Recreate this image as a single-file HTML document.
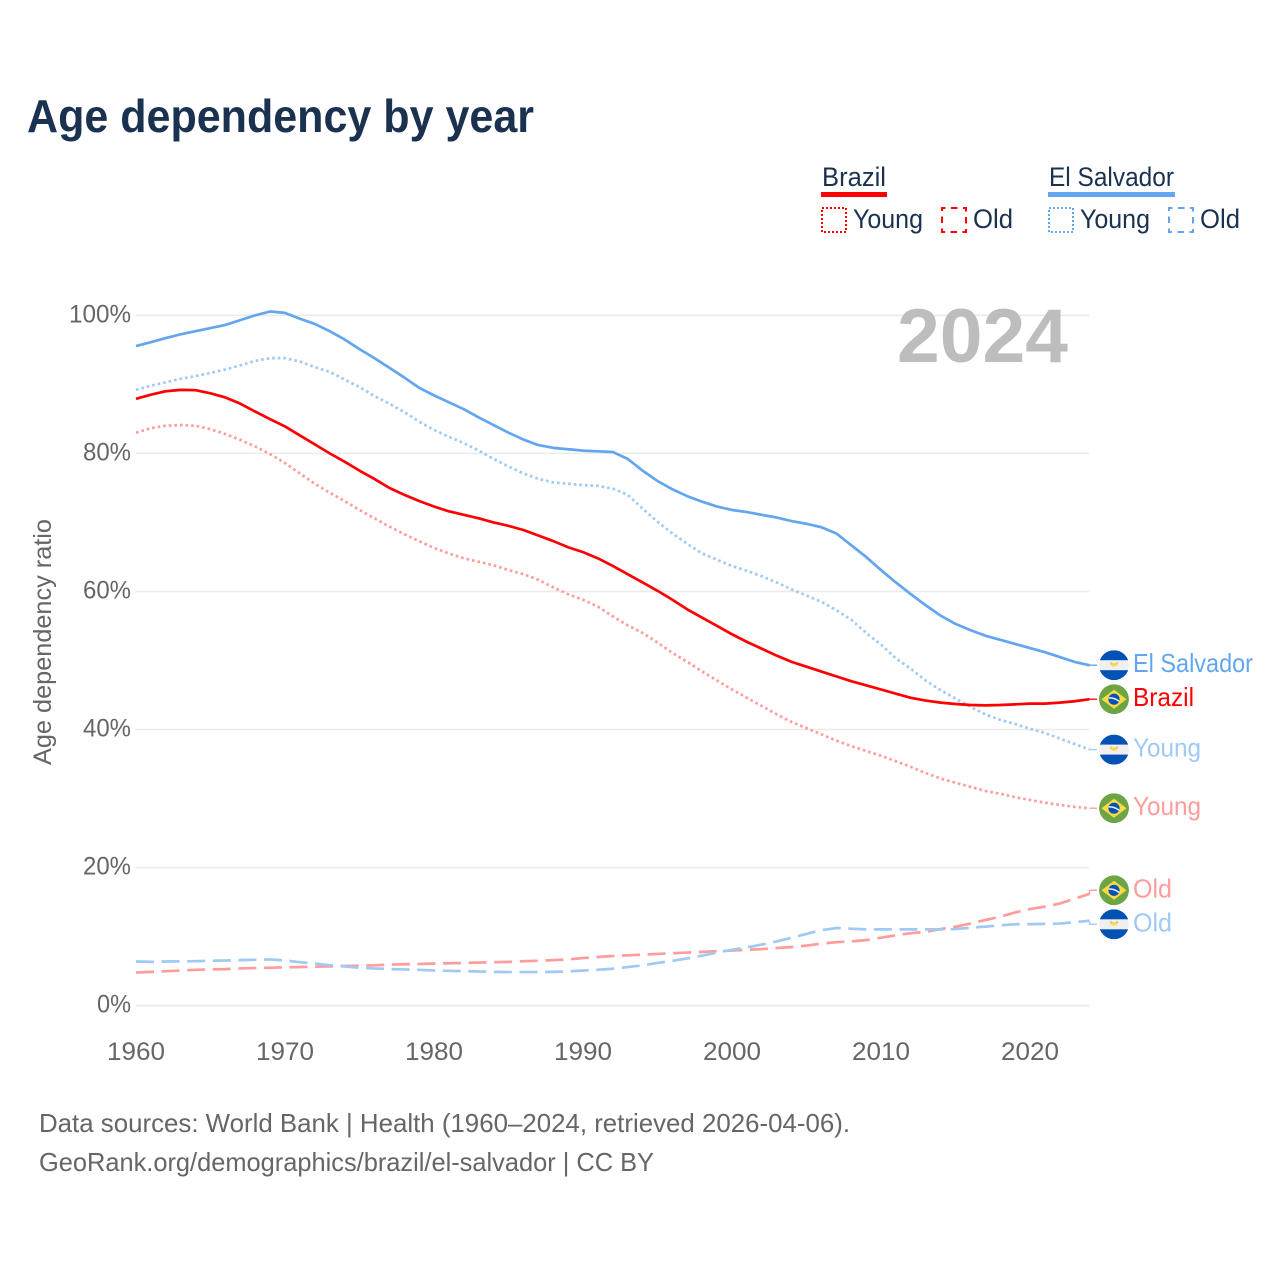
<!DOCTYPE html>
<html lang="en">
<head>
<meta charset="utf-8">
<title>Age dependency by year</title>
<style>
html,body{margin:0;padding:0;background:#fff;}
svg{display:block;font-family:"Liberation Sans",sans-serif;}
</style>
</head>
<body>
<svg id="chart" xmlns="http://www.w3.org/2000/svg" width="1280" height="1280" viewBox="0 0 1280 1280">
  <defs>
    <clipPath id="flag-clip"><circle cx="0" cy="0" r="15"/></clipPath>
    <g id="flag-brazil" clip-path="url(#flag-clip)">
      <circle r="15" fill="#6da544"/>
      <polygon points="0,-9.5 12.5,0 0,9.5 -12.5,0" fill="#ffda44"/>
      <circle r="5.6" fill="#0052b4"/>
      <path d="M-5.3,-1.2 Q0,-1.8 5.2,2.2" fill="none" stroke="#f0f0f0" stroke-width="1.5"/>
    </g>
    <g id="flag-el-salvador" clip-path="url(#flag-clip)">
      <circle r="15" fill="#f0f0f0"/>
      <rect x="-15" y="-15" width="30" height="10" fill="#0052b4"/>
      <rect x="-15" y="5" width="30" height="10" fill="#0052b4"/>
      <path d="M-4,-3 A4,4 0 0 0 4,-3 L2.6,-3 L2.6,-2 L-2.6,-2 L-2.6,-3 Z" fill="#d9b53a"/>
      <rect x="-2.8" y="-1.8" width="5.6" height="3" rx="1.4" fill="#ffda44"/>
    </g>
  </defs>

  <text x="27" y="132" font-size="46" font-weight="700" fill="#1a3150" textLength="507" lengthAdjust="spacingAndGlyphs">Age dependency by year</text>

  <g font-size="27" fill="#1a3150">
    <g>
      <text x="822" y="186" textLength="64" lengthAdjust="spacingAndGlyphs">Brazil</text>
      <rect x="821" y="192" width="66" height="5" fill="#ff0000"/>
      <rect x="822" y="208" width="24" height="24" fill="none" stroke="#ff0000" stroke-width="2" stroke-dasharray="2 2"/>
      <text x="853" y="228" textLength="70" lengthAdjust="spacingAndGlyphs">Young</text>
      <rect x="942" y="208" width="24" height="24" fill="none" stroke="#ff0000" stroke-width="2" stroke-dasharray="6.5 5.5" stroke-dashoffset="3"/>
      <text x="973" y="228" textLength="40" lengthAdjust="spacingAndGlyphs">Old</text>
    </g>
    <g>
      <text x="1049" y="186" textLength="125" lengthAdjust="spacingAndGlyphs">El Salvador</text>
      <rect x="1048" y="192" width="127" height="5" fill="#63a6ef"/>
      <rect x="1049" y="208" width="24" height="24" fill="none" stroke="#63a6ef" stroke-width="2" stroke-dasharray="2 2"/>
      <text x="1080" y="228" textLength="70" lengthAdjust="spacingAndGlyphs">Young</text>
      <rect x="1169" y="208" width="24" height="24" fill="none" stroke="#63a6ef" stroke-width="2" stroke-dasharray="6.5 5.5" stroke-dashoffset="3"/>
      <text x="1200" y="228" textLength="40" lengthAdjust="spacingAndGlyphs">Old</text>
    </g>
  </g>

  <g id="grid"></g>
  <g id="y-ticks"></g>
  <g id="x-ticks"></g>

  <text x="897" y="362" font-size="76" font-weight="700" fill="#bdbdbd" textLength="171" lengthAdjust="spacingAndGlyphs">2024</text>

  <text transform="translate(51 765) rotate(-90)" font-size="25" fill="#666666" textLength="246" lengthAdjust="spacingAndGlyphs">Age dependency ratio</text>

  <g id="series"></g>
  <g id="end-labels"></g>

  <g font-size="26" fill="#666666">
    <text x="39" y="1132" textLength="811" lengthAdjust="spacingAndGlyphs">Data sources: World Bank | Health (1960–2024, retrieved 2026-04-06).</text>
    <text x="39" y="1171" textLength="615" lengthAdjust="spacingAndGlyphs">GeoRank.org/demographics/brazil/el-salvador | CC BY</text>
  </g>
</svg>

<script>
const startYear = 1960;
const xTickYears = [1960, 1970, 1980, 1990, 2000, 2010, 2020];
const yTickValues = [0, 20, 40, 60, 80, 100];

const elSalvadorTotal = [
  95.55,96.1,96.7,97.25,97.7,98.15,98.6,99.3,100.0,100.55,
  100.35,99.5,98.75,97.7,96.5,95.1,93.8,92.4,91.0,89.5,
  88.4,87.4,86.4,85.2,84.1,83.0,82.0,81.2,80.8,80.6,
  80.4,80.3,80.2,79.2,77.5,76.0,74.8,73.8,73.0,72.3,
  71.8,71.5,71.1,70.7,70.2,69.8,69.3,68.4,66.7,65.0,
  63.1,61.3,59.6,58.0,56.5,55.3,54.4,53.6,53.0,52.4,
  51.8,51.2,50.5,49.8,49.3
];
const elSalvadorYoung = [
  89.2,89.8,90.3,90.8,91.2,91.65,92.15,92.75,93.4,93.8,
  93.8,93.3,92.5,91.8,90.7,89.6,88.3,87.2,86.0,84.6,
  83.4,82.4,81.5,80.4,79.2,78.1,77.1,76.3,75.8,75.6,
  75.4,75.3,74.9,74.0,72.0,70.1,68.4,66.9,65.5,64.6,
  63.7,63.0,62.2,61.3,60.3,59.4,58.5,57.3,55.9,54.0,
  52.3,50.3,48.8,47.1,45.7,44.5,43.3,42.2,41.4,40.8,
  40.1,39.5,38.7,37.9,37.1
];
const elSalvadorOld = [
  6.4,6.35,6.4,6.42,6.45,6.5,6.55,6.6,6.65,6.7,
  6.55,6.3,6.1,5.85,5.7,5.5,5.4,5.3,5.25,5.2,
  5.1,5.05,5.0,4.95,4.9,4.87,4.87,4.87,4.9,4.97,
  5.1,5.2,5.35,5.6,5.85,6.2,6.5,6.85,7.25,7.7,
  8.1,8.45,8.85,9.3,9.85,10.4,10.95,11.25,11.15,11.05,
  11.05,11.05,11.05,11.05,11.05,11.1,11.3,11.45,11.65,11.8,
  11.8,11.85,11.9,12.1,12.3
];
const brazilTotal = [
  87.9,88.5,89.0,89.2,89.15,88.7,88.1,87.2,86.05,84.95,
  83.9,82.6,81.3,80.0,78.8,77.5,76.3,75.0,74.0,73.1,
  72.3,71.6,71.1,70.6,70.0,69.5,68.9,68.1,67.3,66.4,
  65.7,64.8,63.7,62.5,61.3,60.1,58.8,57.4,56.2,55.0,
  53.8,52.7,51.7,50.7,49.8,49.1,48.4,47.7,47.0,46.4,
  45.8,45.2,44.6,44.2,43.9,43.7,43.55,43.5,43.55,43.65,
  43.75,43.75,43.9,44.1,44.4
];
const brazilYoung = [
  83.0,83.65,84.0,84.1,84.0,83.5,82.8,81.95,81.0,79.9,
  78.6,77.1,75.6,74.3,73.1,71.8,70.6,69.4,68.3,67.3,
  66.3,65.5,64.8,64.3,63.8,63.1,62.5,61.7,60.6,59.6,
  58.8,57.8,56.4,55.1,54.0,52.6,51.1,49.8,48.4,47.1,
  45.8,44.6,43.4,42.2,41.1,40.2,39.3,38.4,37.6,36.9,
  36.2,35.4,34.6,33.7,32.9,32.3,31.7,31.1,30.7,30.2,
  29.8,29.4,29.1,28.8,28.6
];
const brazilOld = [
  4.8,4.9,5.0,5.1,5.2,5.25,5.3,5.4,5.45,5.5,
  5.55,5.6,5.65,5.7,5.75,5.8,5.85,5.95,6.0,6.05,
  6.1,6.15,6.2,6.25,6.3,6.35,6.45,6.5,6.6,6.7,
  6.9,7.05,7.2,7.3,7.4,7.5,7.6,7.7,7.8,7.9,
  8.0,8.1,8.2,8.35,8.5,8.7,9.0,9.2,9.3,9.5,
  9.85,10.2,10.5,10.7,11.1,11.45,11.9,12.4,12.9,13.5,
  14.0,14.35,14.8,15.5,16.2
];

const NS = 'http://www.w3.org/2000/svg';
function xScale(year) { return 136 + (year - 1960) * 14.9; }
function yScale(v) { return 1005.7 - v * 6.904; }
function make(tag, attrs, parent) {
  const el = document.createElementNS(NS, tag);
  for (const k in attrs) el.setAttribute(k, attrs[k]);
  parent.appendChild(el);
  return el;
}

const gridGroup = document.getElementById('grid');
const yTickGroup = document.getElementById('y-ticks');
const xTickGroup = document.getElementById('x-ticks');
yTickValues.forEach(function (v) {
  const line = make('line', { x1: 135.5, x2: 1089, y1: yScale(v), y2: yScale(v), stroke: '#ebebeb', 'stroke-width': 1.6 }, gridGroup);
  
  
  const label = v + '%';
  const t = make('text', { x: 131, y: yScale(v) + 7, 'text-anchor': 'end', 'font-size': 25, fill: '#666666', textLength: label.length * 14 + 6, lengthAdjust: 'spacingAndGlyphs' }, yTickGroup);
  t.textContent = label;
  
  
});
xTickYears.forEach(function (yr) {
  const t = make('text', { x: xScale(yr), y: 1060, 'text-anchor': 'middle', 'font-size': 25, fill: '#666666', textLength: 58, lengthAdjust: 'spacingAndGlyphs' }, xTickGroup);
  t.textContent = String(yr);
  
  
});

const seriesList = [
  { key: 'brazil-old', values: brazilOld, color: '#ff9c9c', dash: '18 7.6', width: 2.7, label: 'Old', flag: 'flag-brazil', w: 39 },
  { key: 'el-salvador-old', values: elSalvadorOld, color: '#a0c9f4', dash: '18 7.6', width: 2.7, label: 'Old', flag: 'flag-el-salvador', w: 39 },
  { key: 'brazil-young', values: brazilYoung, color: '#ff9c9c', dash: '2.6 3', width: 2.7, label: 'Young', flag: 'flag-brazil', w: 68 },
  { key: 'el-salvador-young', values: elSalvadorYoung, color: '#a0c9f4', dash: '2.6 3', width: 2.7, label: 'Young', flag: 'flag-el-salvador', w: 68 },
  { key: 'brazil-total', values: brazilTotal, color: '#ff0000', dash: '', width: 2.7, label: 'Brazil', flag: 'flag-brazil', w: 61 },
  { key: 'el-salvador-total', values: elSalvadorTotal, color: '#63a6ef', dash: '', width: 2.7, label: 'El Salvador', flag: 'flag-el-salvador', w: 120 }
];

// End-label placement: start at the data value, then push neighbours apart.
const minGap = 34;
const ordered = seriesList.slice().sort(function (a, b) {
  return a.values[a.values.length - 1] < b.values[b.values.length - 1] ? 1 : -1;
});
ordered.forEach(function (s) { s.ly = yScale(s.values[s.values.length - 1]); s.y0 = s.ly; });
for (let pass = 0; pass < 20; pass++) {
  for (let i = 0; i + 1 < ordered.length; i++) {
    const gap = ordered[i + 1].ly - ordered[i].ly;
    if (gap < minGap) {
      const shift = (minGap - gap) / 2;
      ordered[i].ly -= shift;
      ordered[i + 1].ly += shift;
    }
  }
}

const seriesGroup = document.getElementById('series');
const labelGroup = document.getElementById('end-labels');
seriesList.forEach(function (s) {
  const pts = s.values.map(function (v, i) {
    return xScale(startYear + i).toFixed(2) + ',' + yScale(v).toFixed(2);
  });
  const attrs = { d: 'M' + pts.join('L'), fill: 'none', stroke: s.color, 'stroke-width': s.width, 'stroke-linejoin': 'round' };
  if (s.dash) attrs['stroke-dasharray'] = s.dash;
  const path = make('path', attrs, seriesGroup);
  
  

  const xEnd = xScale(startYear + s.values.length - 1);
  const conn = make('path', { d: 'M' + xEnd.toFixed(1) + ',' + s.y0.toFixed(1) + 'V' + s.ly.toFixed(1) + 'H1097', fill: 'none', stroke: s.color, 'stroke-width': 1.3 }, labelGroup);
  
  

  const flag = make('use', { href: '#' + s.flag, transform: 'translate(1114 ' + s.ly.toFixed(1) + ')' }, labelGroup);
  
  

  const txt = make('text', { x: 1133, y: (s.ly + 7).toFixed(1), 'font-size': 26, fill: s.color, textLength: s.w, lengthAdjust: 'spacingAndGlyphs' }, labelGroup);
  txt.textContent = s.label;
  
  
});
</script>
</body>
</html>
